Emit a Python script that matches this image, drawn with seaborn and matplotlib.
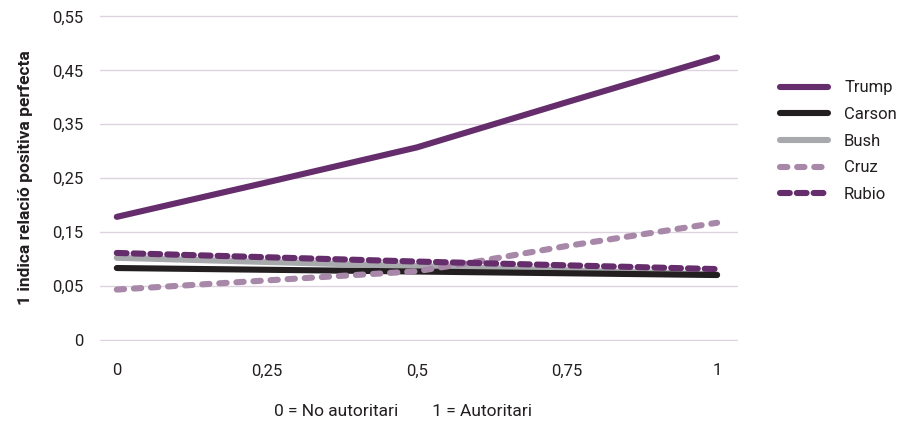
import matplotlib
matplotlib.use("Agg")
import matplotlib.pyplot as plt
import pandas as pd
import seaborn as sns

# data (y axis label "0" sits at -0.05 in the original)
candidats = ["Trump", "Carson", "Bush", "Cruz", "Rubio"]
x_trump = [0, 0.25, 0.5, 0.75, 1]
y_trump = [0.178, 0.242, 0.307, 0.391, 0.474]
x_carson = [0, 1]
y_carson = [0.083, 0.070]
x_bush = [0, 1]
y_bush = [0.102, 0.071]
x_cruz = [0, 0.25, 0.5, 0.6, 0.75, 1]
y_cruz = [0.043, 0.060, 0.077, 0.095, 0.124, 0.167]
x_rubio = [0, 0.5, 1]
y_rubio = [0.111, 0.095, 0.081]

xticks = [0, 0.25, 0.5, 0.75, 1]
xtick_labels = ["0", "0,25", "0,5", "0,75", "1"]
yticks = [-0.05, 0.05, 0.15, 0.25, 0.35, 0.45, 0.55]
ytick_labels = ["0", "0,05", "0,15", "0,25", "0,35", "0,45", "0,55"]

colors = {"Trump": "#652d6b", "Carson": "#231f20", "Bush": "#a7a9ac",
          "Cruz": "#a888a8", "Rubio": "#652d6b"}
dashes = {"Trump": None, "Carson": None, "Bush": None,
          "Cruz": (1.2, 1.6), "Rubio": (1.6, 1.15)}

series = {"Trump": (x_trump, y_trump), "Carson": (x_carson, y_carson),
          "Bush": (x_bush, y_bush), "Cruz": (x_cruz, y_cruz),
          "Rubio": (x_rubio, y_rubio)}

sns.set_style("white")
plt.rcParams['font.family'] = ['Roboto', 'DejaVu Sans']
txt = "#231f20"

fig = plt.figure(figsize=(9.09, 4.25), dpi=100)
ax = fig.add_axes([0.110, 0.197, 0.702, 0.768])

# draw in reverse so Trump/Carson sit on top of the dashed ones like the original
order = ["Bush", "Carson", "Cruz", "Rubio", "Trump"]
for name in order:
    xs, ys = series[name]
    df = pd.DataFrame({"x": xs, "y": ys})
    kw = dict(solid_capstyle="round", dash_capstyle="round")
    if dashes[name] is not None:
        kw["dashes"] = dashes[name]
    sns.lineplot(data=df, x="x", y="y", ax=ax, color=colors[name],
                 linewidth=4.4, label=name, **kw)

ax.set_xlim(-0.028, 1.035)
ax.set_ylim(-0.053, 0.553)
ax.set_xticks(xticks)
ax.set_xticklabels(xtick_labels)
ax.set_yticks(yticks)
ax.set_yticklabels(ytick_labels)
ax.yaxis.grid(True, color="#ddd3df", linewidth=1.0)
ax.xaxis.grid(False)
ax.set_axisbelow(True)
for s in ax.spines.values():
    s.set_visible(False)
ax.tick_params(axis="both", length=0, labelsize=12, colors=txt)
ax.tick_params(axis="x", pad=16)
ax.tick_params(axis="y", pad=12)
ax.set_xlabel("")
ax.set_ylabel("1 indica relació positiva perfecta", fontsize=12.5,
              color=txt, fontweight="semibold", labelpad=14)

# legend in candidate order
h, l = ax.get_legend_handles_labels()
lookup = dict(zip(l, h))
leg = ax.legend([lookup[c] for c in candidats], candidats,
                loc="upper left", bbox_to_anchor=(1.042, 0.845),
                frameon=False, fontsize=12, handlelength=2.9,
                handletextpad=0.95, labelspacing=0.7, labelcolor=txt)

fig.text(403 / 909, 1 - 411 / 425,
         "0 = No autoritari        1 = Autoritari",
         ha="center", va="center", fontsize=12.5, color=txt)

fig.savefig("out.png", dpi=100)
